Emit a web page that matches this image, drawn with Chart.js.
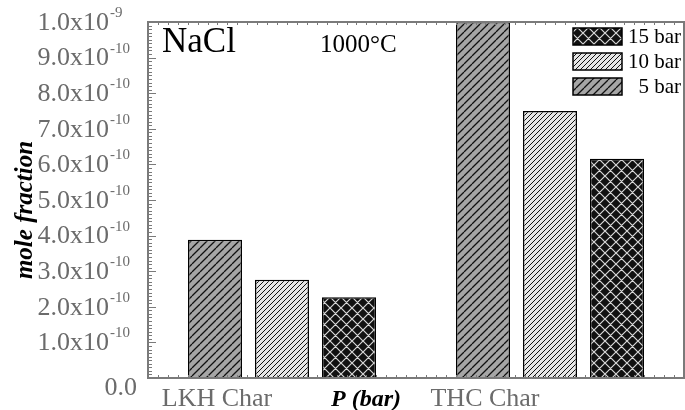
<!DOCTYPE html>
<html>
<head>
<meta charset="utf-8">
<script src="https://cdn.jsdelivr.net/npm/chart.js@4.4.1/dist/chart.umd.min.js"></script>
<style>
  html, body { margin: 0; padding: 0; background: #fff; }
  #wrap { width: 685px; height: 410px; }
</style>
</head>
<body>
<div id="wrap"><canvas id="naclChart" width="685" height="410"></canvas></div>
<script>
// data
const categories = ['LKH Char', 'THC Char'];
const seriesNames = ['5 bar', '10 bar', '15 bar'];
const bar5 = [3.88e-10, 1.0e-9];
const bar10 = [2.76e-10, 7.5e-10];
const bar15 = [2.27e-10, 6.16e-10];
const yTickValues = [0, 1e-10, 2e-10, 3e-10, 4e-10, 5e-10, 6e-10, 7e-10, 8e-10, 9e-10, 1e-9];
const yTickMantissa = ['0.0', '1.0x10', '2.0x10', '3.0x10', '4.0x10', '5.0x10', '6.0x10', '7.0x10', '8.0x10', '9.0x10', '1.0x10'];
const yTickExponent = ['', '-10', '-10', '-10', '-10', '-10', '-10', '-10', '-10', '-10', '-9'];

const serif = '"Liberation Serif", "DejaVu Serif", serif';
const axisGray = '#7a7a7a';
const labelGray = '#6b6b6b';

// build a hatch pattern tile
function hatch(bg, fg, size, lw, cross) {
  const c = document.createElement('canvas');
  c.width = size;
  c.height = size;
  const g = c.getContext('2d');
  g.fillStyle = bg;
  g.fillRect(0, 0, size, size);
  g.strokeStyle = fg;
  g.lineWidth = lw;
  g.beginPath();
  for (const k of [-size, 0, size]) {
    g.moveTo(k, size);
    g.lineTo(k + size, 0);
    if (cross) {
      g.moveTo(k, 0);
      g.lineTo(k + size, size);
    }
  }
  g.stroke();
  return g.createPattern(c, 'repeat');
}

const ctx = document.getElementById('naclChart').getContext('2d');
const fills = [
  hatch('#a6a6a6', '#111', 8, 1.3, false),
  hatch('#e6e6e6', '#111', 5, 1.0, false),
  hatch('#111111', '#d8d8d8', 11, 1.2, true)
];

// frame, ticks, labels, legend and annotations
const decorations = {
  id: 'decorations',
  afterDatasetsDraw(chart) {
    const c = chart.ctx;
    const a = chart.chartArea;
    const y = chart.scales.y;
    c.save();

    // frame
    c.strokeStyle = axisGray;
    c.lineWidth = 2;
    c.strokeRect(a.left, a.top, a.right - a.left, a.bottom - a.top);

    // left axis ticks (major + minor, pointing inward)
    c.lineWidth = 1;
    for (let i = 0; i <= 100; i++) {
      const py = Math.round(y.getPixelForValue(i * 1e-11)) + 0.5;
      const len = i % 10 === 0 ? 8 : 4;
      c.beginPath();
      c.moveTo(a.left, py);
      c.lineTo(a.left + len, py);
      c.stroke();
    }
    // small ticks along top and bottom
    const n = 54;
    for (let i = 1; i < n; i++) {
      const px = Math.round(a.left + i * (a.right - a.left) / n) + 0.5;
      c.beginPath();
      c.moveTo(px, a.top);
      c.lineTo(px, a.top + 3);
      c.moveTo(px, a.bottom);
      c.lineTo(px, a.bottom - 3);
      c.stroke();
    }

    // y tick labels with superscript exponents
    c.fillStyle = labelGray;
    c.textBaseline = 'middle';
    yTickValues.forEach((v, i) => {
      const py = y.getPixelForValue(v);
      if (yTickExponent[i] === '') {
        c.font = '26px ' + serif;
        c.textAlign = 'right';
        c.fillText(yTickMantissa[i], 137, py + 10);
        return;
      }
      c.font = '26px ' + serif;
      c.textAlign = 'right';
      c.fillText(yTickMantissa[i], 109, py + 1);
      c.font = '15px ' + serif;
      c.textAlign = 'left';
      c.fillText(yTickExponent[i], 110, py - 9);
    });

    // y axis title
    c.save();
    c.translate(26, 210);
    c.rotate(-Math.PI / 2);
    c.fillStyle = '#000';
    c.font = 'italic bold 25px ' + serif;
    c.textAlign = 'center';
    c.textBaseline = 'middle';
    c.fillText('mole fraction', 0, 0);
    c.restore();

    // category labels under the first bar of each group
    const meta = chart.getDatasetMeta(0);
    c.fillStyle = labelGray;
    c.font = '26px ' + serif;
    c.textAlign = 'center';
    c.textBaseline = 'alphabetic';
    categories.forEach((cat, i) => {
      c.fillText(cat, meta.data[i].x + 2, 406);
    });
    c.fillStyle = '#000';
    c.font = 'italic bold 24px ' + serif;
    c.fillText('P (bar)', 366, 406);

    // annotations
    c.textAlign = 'left';
    c.font = '35px ' + serif;
    c.fillText('NaCl', 162, 52);
    c.font = '25px ' + serif;
    c.fillText('1000\u00B0C', 320, 52);

    // legend (reverse order, top right)
    const order = [2, 1, 0];
    order.forEach((d, row) => {
      const top = 28 + row * 25;
      c.fillStyle = fills[d];
      c.fillRect(573, top, 49, 17);
      c.strokeStyle = '#000';
      c.lineWidth = 1.5;
      c.strokeRect(573, top, 49, 17);
      c.fillStyle = '#000';
      c.font = '21px ' + serif;
      c.textAlign = 'right';
      c.textBaseline = 'middle';
      c.fillText(chart.data.datasets[d].label, 681, top + 9);
    });

    c.restore();
  }
};

new Chart(ctx, {
  type: 'bar',
  data: {
    labels: categories,
    datasets: [
      { label: seriesNames[0], data: bar5, backgroundColor: fills[0] },
      { label: seriesNames[1], data: bar10, backgroundColor: fills[1] },
      { label: seriesNames[2], data: bar15, backgroundColor: fills[2] }
    ]
  },
  options: {
    responsive: false,
    animation: false,
    devicePixelRatio: 1,
    layout: { padding: { left: 148, top: 22, right: 1, bottom: 32 } },
    datasets: {
      bar: {
        borderColor: '#000',
        borderWidth: 1.5,
        categoryPercentage: 0.75,
        barPercentage: 0.806
      }
    },
    scales: {
      x: { display: false },
      y: { display: false, min: 0, max: 1e-9 }
    },
    plugins: {
      legend: { display: false },
      tooltip: { enabled: false }
    }
  },
  plugins: [decorations]
});
</script>
</body>
</html>
